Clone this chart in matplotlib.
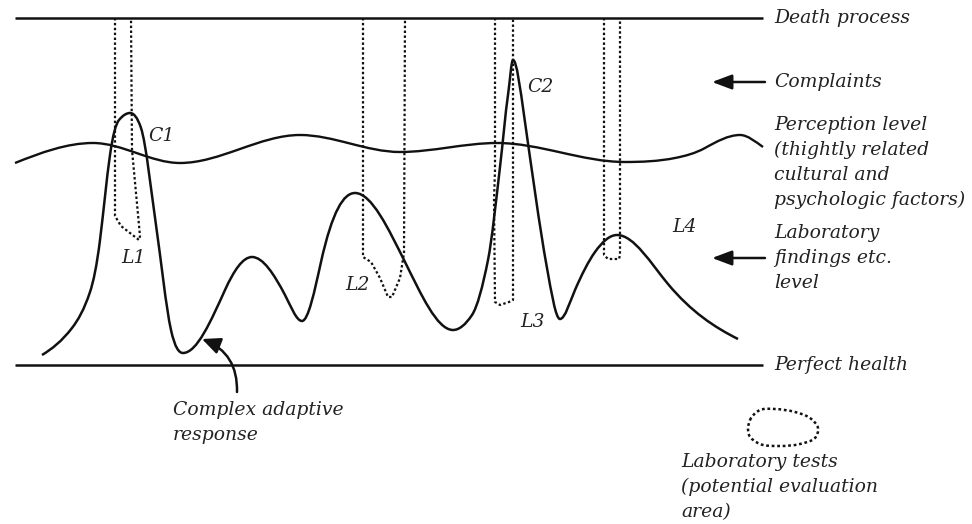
import numpy as np
import matplotlib
matplotlib.use("Agg")
import matplotlib.pyplot as plt
from matplotlib.path import Path
from matplotlib.patches import PathPatch, FancyArrowPatch

# ---------------- data (diagram coordinates, y grows downward) ----------------
death_y = 18
health_y = 365
level_x0, level_x1 = 15, 763

# key points of the "laboratory findings" curve and the curve's slope there
main_x = [42, 72, 90, 100, 110, 119, 130, 141, 156, 171, 183, 225, 252, 285, 302,
          321, 355, 405, 453, 472, 488, 500, 508, 513, 524, 547, 560, 575, 595, 617,
          668, 738]
main_y = [355, 328, 292, 240, 155, 120, 113, 128, 225, 330, 353, 290, 257, 295, 321,
          262, 193, 262, 330, 315, 260, 167, 95, 60, 115, 268, 319, 290, 252, 235,
          284, 339]
main_s = [-0.6, -1.3, -3.0, -8.0, -7.0, -1.2, 0.0, 3.0, 7.0, 4.5, 0.0, -2.2, 0.0, 1.9, 0.0,
          -4.5, 0.0, 2.0, 0.0, -1.5, -5.0, -8.5, -7.0, 0.0, 7.0, 5.5, 0.0, -2.3, -1.4, 0.0,
          1.2, 0.5]

# key points of the perception level curve and its slope there
perc_x = [15, 93, 180, 300, 400, 497, 625, 675, 705, 740, 763]
perc_y = [163, 143, 163, 135, 152, 143, 162, 158, 148, 135, 147]
perc_s = [-0.4, 0.0, 0.0, 0.0, 0.0, 0.0, 0.0, -0.2, -0.55, 0.0, 0.7]

L1_x = [115, 115, 121, 139, 140, 132, 131]
L1_y = [18, 216, 226, 240, 236, 150, 18]
L2_x = [363, 363, 371, 380, 388, 392, 400, 404, 405]
L2_y = [18, 257, 262, 278, 297, 297, 278, 253, 18]
L3_x = [495, 495, 494, 495, 500, 509, 513, 513]
L3_y = [18, 170, 200, 302, 305, 302, 300, 18]
L4_x = [604, 604, 608, 619, 620, 620]
L4_y = [18, 255, 259, 259, 255, 18]

blob_x = [750, 760, 775, 795, 810, 818, 815, 800, 780, 760, 749]
blob_y = [420, 410, 409, 412, 418, 428, 438, 444, 446, 444, 435]

point_labels = ["C1", "L1", "L2", "C2", "L3", "L4"]
point_lx = [148, 121, 345, 527, 520, 672]
point_ly = [136, 258, 285, 87, 322, 227]

right_x = 774
right_texts = ["Death process", "Complaints", "Perception level", "(thightly related",
               "cultural and", "psychologic factors)", "Laboratory", "findings etc.",
               "level", "Perfect health"]
right_y = [18, 82, 125, 150, 175, 200, 233, 258, 283, 365]

legend_texts = ["Laboratory tests", "(potential evaluation", "area)"]
legend_x = 681
legend_y = [462, 487, 512]

car_texts = ["Complex adaptive", "response"]
car_x = 173
car_y = [410, 435]

arrow_y = [82, 258]
arrow_from_x, arrow_to_x = 765, 712
car_arrow_from = (237, 392)
car_arrow_to = (202, 339)


def hermite_path(xs, ys, slopes):
    """Cubic Hermite curve through the key points with the given slopes (Bezier path)."""
    x = np.asarray(xs, float)
    y = np.asarray(ys, float)
    m = np.asarray(slopes, float)
    verts = [(x[0], y[0])]
    codes = [Path.MOVETO]
    for k in range(len(x) - 1):
        t = (x[k + 1] - x[k]) / 3
        verts += [(x[k] + t, y[k] + m[k] * t), (x[k + 1] - t, y[k + 1] - m[k + 1] * t),
                  (x[k + 1], y[k + 1])]
        codes += [Path.CURVE4] * 3
    return Path(verts, codes)


def closed_cr_path(xs, ys, alpha=0.5):
    P = np.column_stack([xs, ys]).astype(float)
    n = len(P)
    pts = np.vstack([P[-1], P, P[0], P[1]])
    verts = [pts[1]]
    codes = [Path.MOVETO]
    for i in range(n):
        p0, p1, p2, p3 = pts[i], pts[i + 1], pts[i + 2], pts[i + 3]
        d1 = np.linalg.norm(p1 - p0) ** alpha
        d2 = np.linalg.norm(p2 - p1) ** alpha
        d3 = np.linalg.norm(p3 - p2) ** alpha
        b1 = (d1 ** 2 * p2 - d2 ** 2 * p0 + (2 * d1 ** 2 + 3 * d1 * d2 + d2 ** 2) * p1) / (3 * d1 * (d1 + d2))
        b2 = (d3 ** 2 * p1 - d2 ** 2 * p3 + (2 * d3 ** 2 + 3 * d3 * d2 + d2 ** 2) * p2) / (3 * d3 * (d3 + d2))
        verts += [b1, b2, p2]
        codes += [Path.CURVE4] * 3
    return Path(verts, codes)


fig = plt.figure(figsize=(9.72, 5.24), dpi=100)
ax = fig.add_axes([0, 0, 1, 1])
ax.set_xlim(0, 972)
ax.set_ylim(524, 0)
ax.axis("off")

FONT = dict(family="DejaVu Serif", style="italic", size=13.5, color="#222222")

# levels
for y in (death_y, health_y):
    ax.plot([level_x0, level_x1], [y, y], color="#111111", lw=1.8, solid_capstyle="butt")

# curves
ax.add_patch(PathPatch(hermite_path(perc_x, perc_y, perc_s), fill=False, lw=1.7, ec="#111111"))
ax.add_patch(PathPatch(hermite_path(main_x, main_y, main_s), fill=False, lw=1.8, ec="#111111"))

# lab test areas (dotted)
dot = dict(color="#111111", lw=1.6, linestyle=(0, (1.1, 1.1)), dash_capstyle="butt")
for xs, ys in ((L1_x, L1_y), (L2_x, L2_y), (L3_x, L3_y), (L4_x, L4_y)):
    ax.plot(xs, ys, **dot)
ax.add_patch(PathPatch(closed_cr_path(blob_x, blob_y), fill=False, ec="#111111",
                       lw=1.8, linestyle=(0, (1.1, 1.1))))

# labels
for t, x, y in zip(point_labels, point_lx, point_ly):
    ax.text(x, y, t, ha="left", va="center", **FONT)
for t, y in zip(right_texts, right_y):
    ax.text(right_x, y, t, ha="left", va="center", **FONT)
for t, y in zip(legend_texts, legend_y):
    ax.text(legend_x, y, t, ha="left", va="center", **FONT)
for t, y in zip(car_texts, car_y):
    ax.text(car_x, y, t, ha="left", va="center", **FONT)

# arrows
for y in arrow_y:
    ax.annotate("", xy=(arrow_to_x, y), xytext=(arrow_from_x, y),
                arrowprops=dict(arrowstyle="-|>,head_length=1.2,head_width=0.45",
                                color="#111111", lw=1.8, shrinkA=0, shrinkB=0))
ax.add_patch(FancyArrowPatch(car_arrow_from, car_arrow_to,
                             connectionstyle="arc3,rad=0.35",
                             arrowstyle="-|>,head_length=11,head_width=5",
                             color="#111111", lw=1.8, shrinkA=0, shrinkB=0,
                             mutation_scale=1))

fig.savefig("out.png", dpi=100, facecolor="white")
